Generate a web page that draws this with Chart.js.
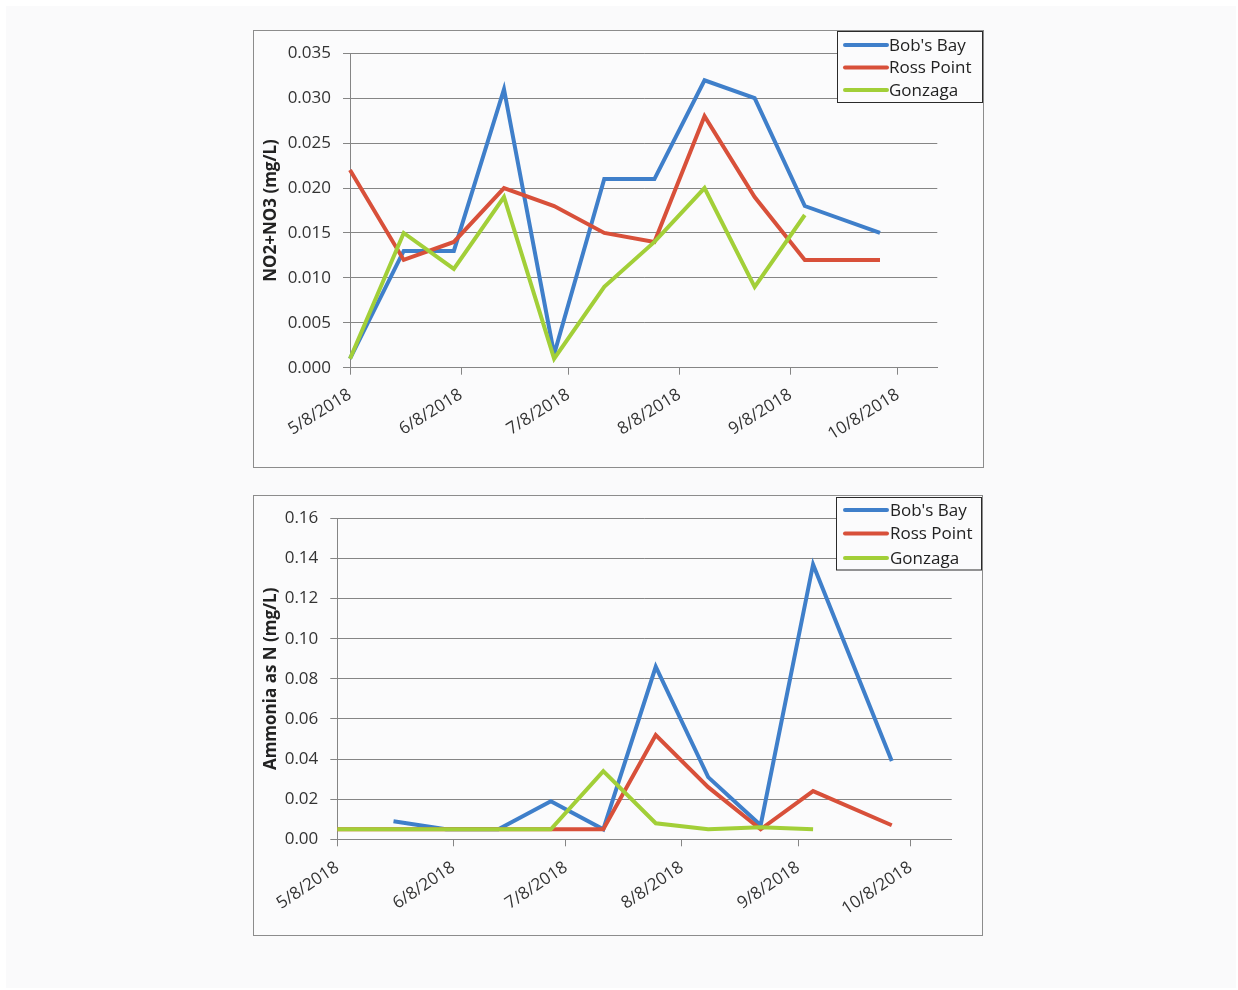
<!DOCTYPE html>
<html><head><meta charset="utf-8">
<script src="https://cdn.jsdelivr.net/npm/chart.js@4.4.1/dist/chart.umd.min.js"></script>
<style>
html,body{margin:0;padding:0;background:#ffffff;width:1238px;height:990px;overflow:hidden;}
.paper{position:absolute;left:6px;top:6px;width:1230px;height:982px;background:#fafafb;}
.box{position:absolute;box-sizing:border-box;border:1px solid #8c8c8c;background:#fbfbfc;}
canvas{display:block;}
</style></head><body>
<div class="paper"></div>
<div class="box" style="left:253px;top:30px;width:731px;height:438px;"><canvas id="c1" width="729" height="436" style="width:729px;height:436px"></canvas></div>
<div class="box" style="left:253px;top:495px;width:730px;height:441px;"><canvas id="c2" width="728" height="439" style="width:728px;height:439px"></canvas></div>
<script>
// ---------- data ----------
const sampleDates = ['2018-05-08','2018-05-23','2018-06-06','2018-06-20','2018-07-04','2018-07-18','2018-08-01','2018-08-15','2018-08-29','2018-09-12','2018-10-03'];
const axisStart = '2018-05-08';
const axisEnd = '2018-10-19';
const xTickLabels = ['5/8/2018','6/8/2018','7/8/2018','8/8/2018','9/8/2018','10/8/2018'];
const seriesNames = ["Bob's Bay", 'Ross Point', 'Gonzaga'];

// NO2+NO3 (mg/L)
const bobsBayNOx   = [0.001, 0.013, 0.013, 0.031, 0.0015, 0.021, 0.021, 0.032, 0.030, 0.018, 0.015];
const rossPointNOx = [0.022, 0.012, 0.014, 0.020, 0.018, 0.015, 0.014, 0.028, 0.019, 0.012, 0.012];
const gonzagaNOx   = [0.001, 0.015, 0.011, 0.019, 0.001, 0.009, 0.014, 0.020, 0.009, 0.017, null];
const yTicksNOx = [0, 0.005, 0.010, 0.015, 0.020, 0.025, 0.030, 0.035];

// Ammonia as N (mg/L)
const bobsBayNH3   = [null, 0.009, 0.005, 0.005, 0.019, 0.005, 0.086, 0.031, 0.007, 0.137, 0.039];
const rossPointNH3 = [0.005, 0.005, 0.005, 0.005, 0.005, 0.005, 0.052, 0.026, 0.005, 0.024, 0.007];
const gonzagaNH3   = [0.005, 0.005, 0.005, 0.005, 0.005, 0.034, 0.008, 0.005, 0.006, 0.005, null];
const yTicksNH3 = [0, 0.02, 0.04, 0.06, 0.08, 0.10, 0.12, 0.14, 0.16];

// ---------- helpers ----------
const seriesColors = ['#3f7fca', '#d8503a', '#a2cf38'];
const FONT = '"Open Sans", "Noto Sans", sans-serif';
function isoDay(s){const p=s.split('-').map(Number);return Date.UTC(p[0],p[1]-1,p[2]);}
function usDay(s){const p=s.split('/').map(Number);return Date.UTC(p[2],p[0]-1,p[1]);}
const t0 = isoDay(axisStart);
const toDays = ms => Math.round((ms - t0)/86400000);
const sampleX = sampleDates.map(s => toDays(isoDay(s)));
const xTickX = xTickLabels.map(s => toDays(usDay(s)));
const xMax = toDays(isoDay(axisEnd));

const boxLegend = {
  id: 'boxLegend',
  afterDraw(chart, args, o) {
    const ctx = chart.ctx;
    ctx.save();
    ctx.fillStyle = '#fbfbfc';
    ctx.fillRect(o.x, o.y, o.w, o.h);
    ctx.strokeStyle = '#2a2a2a';
    ctx.lineWidth = 1;
    ctx.strokeRect(o.x, o.y, o.w, o.h);
    const byName = {};
    chart.data.datasets.forEach(d => byName[d.label] = d);
    seriesNames.forEach((name, i) => {
      const d = byName[name];
      const y = o.rows[i];
      ctx.strokeStyle = d.borderColor;
      ctx.lineWidth = 4;
      ctx.lineCap = 'round';
      ctx.beginPath(); ctx.moveTo(o.lx0, y); ctx.lineTo(o.lx1, y); ctx.stroke();
      ctx.fillStyle = '#222222';
      ctx.font = '17px ' + FONT;
      ctx.textBaseline = 'middle';
      ctx.textAlign = 'left';
      ctx.fillText(name, o.tx, y + 1);
    });
    ctx.restore();
  }
};

function makeChart(id, cfg) {
  const canvas = document.getElementById(id);
  const W = canvas.width, H = canvas.height;
  const pts = arr => arr.map((v, i) => ({x: sampleX[i], y: v}));
  const ds = [cfg.bob, cfg.ross, cfg.gon].map((arr, i) => ({
    label: seriesNames[i],
    data: pts(arr),
    borderColor: seriesColors[i],
    backgroundColor: seriesColors[i],
    borderWidth: 4,
    pointRadius: 0,
    tension: 0,
    spanGaps: false,
    clip: false,
    order: 2 - i
  }));
  return new Chart(canvas, {
    type: 'line',
    data: {datasets: ds},
    plugins: [boxLegend],
    options: {
      responsive: false,
      animation: false,
      devicePixelRatio: 1,
      layout: {padding: {left: 0, top: cfg.top, right: W - cfg.right, bottom: 0}},
      plugins: {
        legend: {display: false},
        tooltip: {enabled: false},
        boxLegend: cfg.legend
      },
      scales: {
        x: {
          type: 'linear', min: 0, max: xMax,
          afterBuildTicks: s => { s.ticks = xTickX.map(v => ({value: v})); },
          afterFit: s => { s.height = H - cfg.bottom; },
          ticks: {
            autoSkip: false,
            minRotation: cfg.rot, maxRotation: cfg.rot,
            padding: cfg.xPad,
            color: '#333333',
            font: {family: FONT, size: 17},
            callback: v => xTickLabels[xTickX.indexOf(v)]
          },
          grid: {drawOnChartArea: false, drawTicks: true, tickLength: 7, color: '#858585'},
          border: {color: '#858585', width: 1}
        },
        y: {
          min: cfg.yTicks[0], max: cfg.yTicks[cfg.yTicks.length - 1],
          afterBuildTicks: s => { s.ticks = cfg.yTicks.map(v => ({value: v})); },
          afterFit: s => { s.width = cfg.left; },
          ticks: {
            padding: cfg.yPad,
            color: '#333333',
            font: {family: FONT, size: 17},
            callback: v => Number(v).toFixed(cfg.dec)
          },
          grid: {color: '#858585', lineWidth: 1, tickLength: 7},
          border: {color: '#858585', width: 1},
          title: {
            display: true, text: cfg.title, color: '#222222',
            font: {family: FONT, size: 17, weight: 'bold'},
            padding: {top: 7, bottom: 0}
          }
        }
      }
    }
  });
}

function draw() {
  makeChart('c1', {
    bob: bobsBayNOx, ross: rossPointNOx, gon: gonzagaNOx,
    yTicks: yTicksNOx, dec: 3, title: 'NO2+NO3 (mg/L)',
    left: 96, right: 683.3, top: 22.3, bottom: 336.7,
    rot: 32, xPad: 10, yPad: 12,
    legend: {x: 583.5, y: 0.5, w: 145, h: 71, lx0: 591, lx1: 633, tx: 635, rows: [14, 36.5, 59]}
  });
  makeChart('c2', {
    bob: bobsBayNH3, ross: rossPointNH3, gon: gonzagaNH3,
    yTicks: yTicksNH3, dec: 2, title: 'Ammonia as N (mg/L)',
    left: 83.3, right: 697.7, top: 22.3, bottom: 343.3,
    rot: 34, xPad: 11, yPad: 12,
    legend: {x: 582.5, y: 1.5, w: 145, h: 72.5, lx0: 591, lx1: 633, tx: 636, rows: [14, 37.5, 62]}
  });
}
if (document.fonts && document.fonts.load) {
  Promise.all([
    document.fonts.load('17px "Open Sans"'),
    document.fonts.load('bold 17px "Open Sans"')
  ]).then(draw, draw);
} else { draw(); }
</script>
</body></html>
